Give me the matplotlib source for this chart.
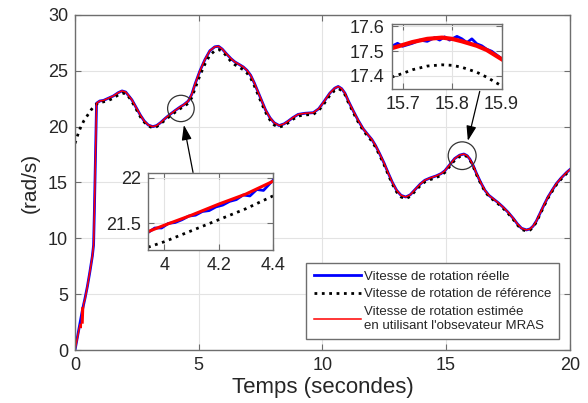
import numpy as np
import matplotlib
matplotlib.use('Agg')
import matplotlib.pyplot as plt
from matplotlib.patches import Ellipse

plt.rcParams['font.family'] = ['Liberation Sans', 'DejaVu Sans']

# measured speed (rad/s)
real_t = [0.0, 0.1, 0.2, 0.3, 0.4, 0.5, 0.6, 0.7, 0.75, 0.78, 0.81, 0.84, 0.87,
          1.0, 1.15, 1.3, 1.55, 1.75, 1.9, 2.05, 2.3, 2.5, 2.65, 2.8, 2.96, 3.14,
          3.3, 3.45, 3.65, 3.84, 4.05, 4.24, 4.4, 4.58, 4.72, 4.85, 5.05, 5.25,
          5.45, 5.65, 5.8, 5.95, 6.13, 6.3, 6.46, 6.65, 6.8, 6.95, 7.1, 7.25,
          7.4, 7.55, 7.7, 7.88, 8.05, 8.25, 8.45, 8.62, 8.8, 9.02, 9.3, 9.63,
          9.85, 10.05, 10.3, 10.5, 10.64, 10.78, 10.91, 11.05, 11.25, 11.45,
          11.65, 11.85, 12.0, 12.15, 12.32, 12.5, 12.66, 12.83, 13.0, 13.18,
          13.37, 13.55, 13.74, 13.95, 14.14, 14.35, 14.61, 14.8, 14.95, 15.15,
          15.35, 15.55, 15.72, 15.85, 15.96, 16.1, 16.23, 16.4, 16.57, 16.73,
          16.9, 17.1, 17.3, 17.5, 17.71, 17.88, 18.05, 18.25, 18.4, 18.52,
          18.65, 18.79, 18.95, 19.12, 19.3, 19.46, 19.65, 19.87, 20.0]
real_v = [0.0, 1.2, 2.4, 3.6, 4.6, 5.7, 7.0, 8.4, 9.4, 12.2, 15.5, 18.8, 22.1,
          22.3, 22.35, 22.5, 22.75, 23.05, 23.2, 23.1, 22.4, 21.6, 21.0, 20.5,
          20.15, 20.0, 20.1, 20.35, 20.75, 21.1, 21.45, 21.75, 21.97, 22.3,
          22.9, 23.8, 25.0, 26.0, 26.8, 27.15, 27.2, 26.95, 26.5, 26.1, 25.8,
          25.55, 25.35, 25.05, 24.6, 23.9, 23.1, 22.3, 21.5, 20.8, 20.35, 20.1,
          20.25, 20.5, 20.8, 21.1, 21.2, 21.25, 21.6, 22.2, 23.0, 23.45, 23.6,
          23.4, 23.0, 22.3, 21.4, 20.55, 19.8, 19.25, 18.85, 18.3, 17.55, 16.7,
          15.85, 15.0, 14.3, 13.85, 13.7, 13.9, 14.35, 14.85, 15.2, 15.4, 15.6,
          15.8, 16.05, 16.6, 17.15, 17.45, 17.55, 17.4, 17.1, 16.5, 15.8, 15.0,
          14.3, 13.85, 13.55, 13.2, 12.8, 12.35, 11.8, 11.3, 10.9, 10.75, 10.85,
          11.1, 11.55, 12.2, 12.95, 13.7, 14.35, 14.9, 15.4, 15.9, 16.15]

# reference speed
ref_t = [0.0, 0.1, 0.2, 0.35, 0.5, 0.65, 0.81, 1.0, 1.3, 1.55, 1.75, 1.95, 2.1,
         2.3, 2.5, 2.65, 2.8, 2.96, 3.15, 3.3, 3.45, 3.65, 3.84, 4.05, 4.24,
         4.4, 4.58, 4.72, 4.85, 5.05, 5.25, 5.45, 5.65, 5.82, 5.98, 6.15, 6.3,
         6.46, 6.65, 6.8, 6.95, 7.1, 7.25, 7.4, 7.55, 7.7, 7.88, 8.05, 8.25,
         8.45, 8.62, 8.8, 9.02, 9.3, 9.63, 9.85, 10.05, 10.3, 10.5, 10.66, 10.8,
         10.93, 11.05, 11.25, 11.45, 11.65, 11.85, 12.0, 12.15, 12.32, 12.5,
         12.66, 12.83, 13.0, 13.18, 13.37, 13.55, 13.74, 13.95, 14.14, 14.35,
         14.61, 14.8, 14.95, 15.15, 15.35, 15.55, 15.73, 15.86, 15.97, 16.1,
         16.23, 16.4, 16.57, 16.73, 16.9, 17.1, 17.3, 17.5, 17.71, 17.88, 18.05,
         18.25, 18.4, 18.52, 18.65, 18.79, 18.95, 19.12, 19.3, 19.46, 19.65,
         19.87, 20.0]
ref_v = [18.5, 19.2, 19.8, 20.5, 21.0, 21.5, 21.95, 22.15, 22.3, 22.55, 22.85,
         23.0, 22.9, 22.25, 21.45, 20.85, 20.4, 20.05, 19.9, 20.0, 20.25, 20.6,
         20.95, 21.3, 21.6, 21.8, 22.1, 22.6, 23.4, 24.6, 25.6, 26.4, 26.8,
         26.9, 26.7, 26.25, 25.85, 25.55, 25.3, 25.1, 24.8, 24.35, 23.65, 22.85,
         22.05, 21.3, 20.6, 20.15, 19.95, 20.1, 20.35, 20.65, 20.95, 21.05, 21.1,
         21.45, 22.0, 22.8, 23.25, 23.4, 23.2, 22.8, 22.15, 21.25, 20.4, 19.65,
         19.1, 18.7, 18.15, 17.4, 16.55, 15.7, 14.85, 14.15, 13.7, 13.55, 13.75,
         14.2, 14.7, 15.05, 15.25, 15.45, 15.65, 15.9, 16.45, 17.0, 17.32, 17.44,
         17.3, 17.0, 16.4, 15.7, 14.9, 14.2, 13.75, 13.45, 13.1, 12.7, 12.25,
         11.7, 11.2, 10.8, 10.65, 10.75, 11.0, 11.45, 12.1, 12.85, 13.6, 14.25,
         14.8, 15.3, 15.8, 16.05]

# estimated speed: start-up part (noisy), the rest follows the measured speed
est_start_t = [0.0, 0.1, 0.2, 0.25, 0.28, 0.32, 0.35, 0.4, 0.5, 0.6, 0.7, 0.75,
               0.78, 0.81, 0.84, 0.87]
est_start_v = [0.0, 1.1, 2.3, 2.0, 3.8, 2.4, 4.2, 4.5, 5.7, 7.0, 8.4, 9.4, 12.2,
               15.5, 18.8, 22.1]

# zoom 1 (around t = 4.2 s)
z1_real_t = [3.94, 3.965, 3.99, 4.015, 4.04, 4.065, 4.09, 4.115, 4.14, 4.165,
             4.19, 4.215, 4.24, 4.265, 4.29, 4.315, 4.34, 4.365, 4.39, 4.4]
z1_real_v = [21.40, 21.45, 21.45, 21.50, 21.51, 21.54, 21.58, 21.59, 21.63,
             21.64, 21.68, 21.70, 21.74, 21.76, 21.81, 21.80, 21.87, 21.86,
             21.94, 21.97]
z1_est_t = [3.94, 4.0, 4.1, 4.2, 4.3, 4.4]
z1_est_v = [21.41, 21.48, 21.59, 21.71, 21.82, 21.96]
z1_ref_t = [3.94, 4.0, 4.1, 4.2, 4.3, 4.4]
z1_ref_v = [21.24, 21.30, 21.42, 21.54, 21.66, 21.80]

# zoom 2 (around t = 15.8 s)
z2_real_t = [15.678, 15.69, 15.70, 15.72, 15.735, 15.75, 15.765, 15.775, 15.785,
             15.795, 15.81, 15.82, 15.83, 15.84, 15.85, 15.86, 15.87, 15.88,
             15.89, 15.9]
z2_real_v = [17.52, 17.532, 17.52, 17.532, 17.545, 17.54, 17.555, 17.545,
             17.558, 17.545, 17.56, 17.55, 17.535, 17.55, 17.53, 17.522,
             17.508, 17.50, 17.485, 17.47]
z2_est_t = [15.678, 15.7, 15.72, 15.75, 15.78, 15.8, 15.82, 15.85, 15.87, 15.9]
z2_est_v = [17.512, 17.525, 17.537, 17.55, 17.555, 17.55, 17.54, 17.522,
            17.505, 17.468]
z2_ref_t = [15.678, 15.7, 15.72, 15.75, 15.78, 15.8, 15.82, 15.85, 15.87, 15.9]
z2_ref_v = [17.395, 17.41, 17.425, 17.44, 17.445, 17.443, 17.435, 17.415,
            17.395, 17.36]

labels = ['Vitesse de rotation réelle',
          'Vitesse de rotation de référence',
          'Vitesse de rotation estimée\nen utilisant l\'obsevateur MRAS']

est_t = est_start_t + real_t[13:]
est_v = est_start_v + real_v[13:]

text_c = '#262626'
spine_c = '#6e6e6e'
grid_c = '#e3e3e3'


def style(ax):
    ax.grid(True, color=grid_c, linewidth=0.8)
    ax.set_axisbelow(True)
    for s in ax.spines.values():
        s.set_color(spine_c)
        s.set_linewidth(1.0)
    ax.tick_params(direction='in', length=4, width=0.8, color=spine_c,
                   labelcolor=text_c, labelsize=13, top=True, right=True, pad=5)


fig = plt.figure(figsize=(5.88, 4.03), dpi=100)
ax = fig.add_axes([0.1276, 0.1315, 0.8414, 0.8313])

ax.plot(real_t, real_v, color='#0000ff', linewidth=2.0, label=labels[0])
ax.plot(ref_t, ref_v, color='black', linestyle=':', linewidth=2.0, label=labels[1])
ax.plot(est_t, est_v, color='#ff0000', linewidth=1.1, label=labels[2])

ax.set_xlim(0, 20)
ax.set_ylim(0, 30)
ax.set_xticks([0, 5, 10, 15, 20])
ax.set_yticks([0, 5, 10, 15, 20, 25, 30])
style(ax)
ax.set_xlabel('Temps (secondes)', fontsize=16, color=text_c, labelpad=2)
ax.set_ylabel('(rad/s)', fontsize=15, color=text_c, labelpad=6)

leg = ax.legend(loc='lower right', fontsize=9.5, frameon=True, fancybox=False,
                edgecolor=spine_c, framealpha=1, handlelength=3.6,
                handletextpad=0.2, borderaxespad=0.8, labelspacing=0.4,
                borderpad=0.6)
leg.get_frame().set_linewidth(1.0)
for t in leg.get_texts():
    t.set_color(text_c)

# circles marking the zoomed regions
ax.add_patch(Ellipse((4.28, 21.63), 1.075, 2.36, fill=False, edgecolor='#333333', linewidth=0.9, zorder=5))
ax.add_patch(Ellipse((15.65, 17.4), 1.13, 2.48, fill=False, edgecolor='#333333', linewidth=0.9, zorder=5))

arrow = dict(arrowstyle='-|>, head_length=0.9, head_width=0.3', color='black',
             linewidth=0.9, shrinkA=0, shrinkB=0)
ax.annotate('', xy=(4.40, 20.15), xytext=(4.77, 15.9), arrowprops=arrow)
ax.annotate('', xy=(15.88, 18.73), xytext=(16.36, 23.16), arrowprops=arrow)

# inset 1
ax1 = fig.add_axes([0.2517, 0.3797, 0.2126, 0.191])
ax1.plot(z1_real_t, z1_real_v, color='#0000ff', linewidth=2.0)
ax1.plot(z1_ref_t, z1_ref_v, color='black', linestyle=':', linewidth=2.0)
ax1.plot(z1_est_t, z1_est_v, color='#ff0000', linewidth=2.2)
ax1.set_xlim(3.94, 4.4)
ax1.set_ylim(21.21, 22.05)
ax1.set_xticks([4, 4.2, 4.4])
ax1.set_xticklabels(['4', '4.2', '4.4'])
ax1.set_yticks([21.5, 22])
ax1.set_yticklabels(['21.5', '22'])
style(ax1)

# inset 2
ax2 = fig.add_axes([0.666, 0.7784, 0.187, 0.162])
ax2.plot(z2_real_t, z2_real_v, color='#0000ff', linewidth=2.0)
ax2.plot(z2_ref_t, z2_ref_v, color='black', linestyle=':', linewidth=2.0)
ax2.plot(z2_est_t, z2_est_v, color='#ff0000', linewidth=3.0)
ax2.set_xlim(15.678, 15.9)
ax2.set_ylim(17.346, 17.61)
ax2.set_xticks([15.7, 15.8, 15.9])
ax2.set_yticks([17.4, 17.5, 17.6])
style(ax2)

fig.savefig('out.png', dpi=100)
